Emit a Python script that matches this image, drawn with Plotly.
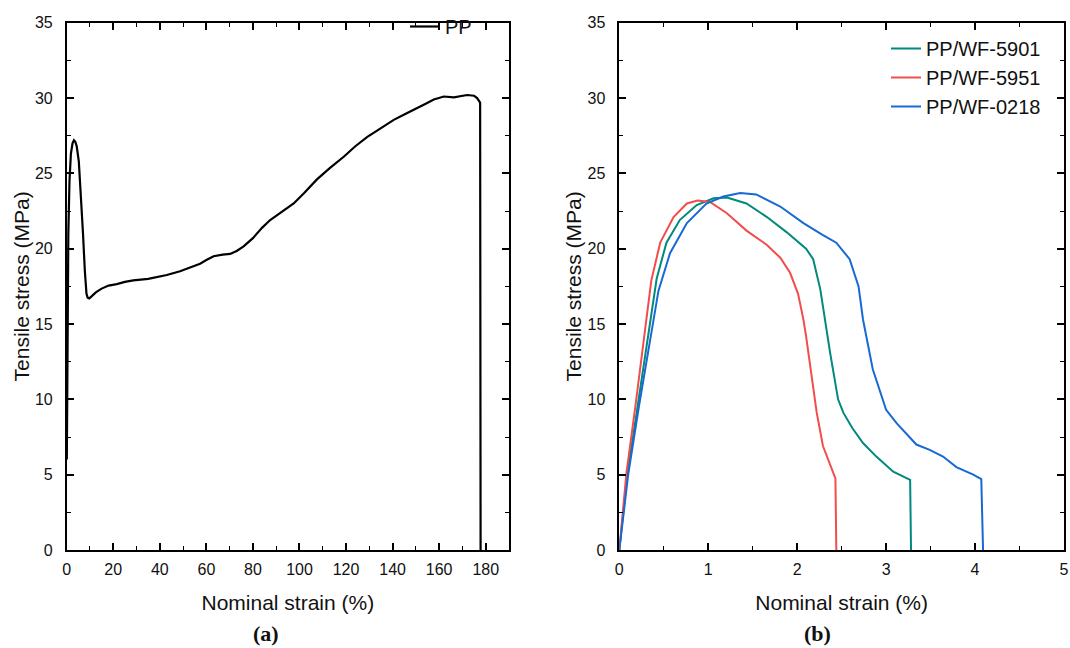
import plotly.graph_objects as go

# ---- Data ----
pp_strain = [0.05, 0.3, 0.7, 1.2, 1.8, 2.5, 3.1, 3.7, 4.3, 5.2, 6.2, 7.0, 7.8, 8.5, 9.0, 9.7,
             10.8, 12.5, 15, 18, 21.5, 25, 28.6, 35, 43, 48.7, 53, 57.3, 60, 63.1, 67, 70.2,
             73, 76, 80, 84, 87.4, 92, 97.5, 102, 107.5, 113, 119, 124, 129, 135, 140.5, 145,
             150.5, 154, 157.7, 162, 166.3, 169, 172, 175, 176.3, 177.6, 177.8]
pp_stress = [6.0, 14.0, 21.0, 24.5, 26.3, 27.0, 27.2, 27.1, 26.8, 25.8, 23.5, 21.0, 18.5, 17.0, 16.75, 16.7,
             16.85, 17.1, 17.35, 17.55, 17.65, 17.8, 17.9, 18.0, 18.25, 18.5, 18.75, 19.0, 19.25, 19.5, 19.6, 19.65,
             19.85, 20.15, 20.7, 21.4, 21.9, 22.4, 23.0, 23.7, 24.6, 25.35, 26.1, 26.8, 27.4, 28.0, 28.55, 28.9,
             29.3, 29.6, 29.9, 30.1, 30.05, 30.1, 30.2, 30.15, 30.0, 29.7, 0.0]

wf5901_strain = [0, 0.045, 0.09, 0.2, 0.36, 0.42, 0.53, 0.68, 0.87, 1.06, 1.21, 1.43, 1.66, 1.88, 2.1,
                 2.18, 2.26, 2.31, 2.37, 2.46, 2.52, 2.62, 2.74, 2.89, 3.08, 3.27, 3.28]
wf5901_stress = [0, 2.6, 5.0, 9.3, 15.6, 18.0, 20.4, 21.9, 22.9, 23.35, 23.4, 23.0, 22.1, 21.1, 20.0,
                 19.3, 17.3, 15.3, 13.1, 10.0, 9.1, 8.1, 7.1, 6.2, 5.2, 4.65, 0]

wf5951_strain = [0, 0.04, 0.08, 0.18, 0.31, 0.36, 0.46, 0.61, 0.76, 0.88, 1.02, 1.21, 1.43, 1.66, 1.81,
                 1.92, 2.01, 2.07, 2.1, 2.16, 2.22, 2.29, 2.39, 2.43, 2.44]
wf5951_stress = [0, 2.7, 5.1, 9.5, 15.3, 17.9, 20.4, 22.1, 23.0, 23.2, 23.1, 22.35, 21.2, 20.25, 19.4,
                 18.4, 17.0, 15.3, 14.2, 11.5, 9.1, 6.9, 5.3, 4.75, 0]

wf0218_strain = [0, 0.05, 0.1, 0.22, 0.38, 0.44, 0.57, 0.76, 0.98, 1.17, 1.36, 1.54, 1.81, 2.07, 2.29,
                 2.44, 2.59, 2.69, 2.74, 2.85, 3.0, 3.12, 3.34, 3.49, 3.64, 3.79, 3.98, 4.07, 4.09]
wf0218_stress = [0, 2.6, 5.0, 9.5, 15.3, 17.2, 19.7, 21.7, 23.0, 23.46, 23.7, 23.6, 22.8, 21.7, 20.9,
                 20.4, 19.3, 17.5, 15.3, 12.0, 9.3, 8.4, 7.0, 6.65, 6.2, 5.5, 5.0, 4.7, 0]

x_title = "Nominal strain (%)"
y_title = "Tensile stress (MPa)"
panel_labels = ["(a)", "(b)"]

FONT = "Arial, Liberation Sans, sans-serif"
GREEN = "#00897e"
RED = "#f24c4c"
BLUE = "#1769d3"

fig = go.Figure()
fig.add_trace(go.Scatter(x=pp_strain, y=pp_stress, mode="lines", name="PP",
                         line=dict(color="black", width=2.2), xaxis="x", yaxis="y", legend="legend"))
fig.add_trace(go.Scatter(x=wf5901_strain, y=wf5901_stress, mode="lines", name="PP/WF-5901",
                         line=dict(color=GREEN, width=2), xaxis="x2", yaxis="y2", legend="legend2"))
fig.add_trace(go.Scatter(x=wf5951_strain, y=wf5951_stress, mode="lines", name="PP/WF-5951",
                         line=dict(color=RED, width=2), xaxis="x2", yaxis="y2", legend="legend2"))
fig.add_trace(go.Scatter(x=wf0218_strain, y=wf0218_stress, mode="lines", name="PP/WF-0218",
                         line=dict(color=BLUE, width=2), xaxis="x2", yaxis="y2", legend="legend2"))

W, H = 1070, 648
ydom = [1 - 550 / H, 1 - 22.7 / H]

def xax(dom, rng, dtick, mdtick, anchor):
    return dict(domain=dom, range=rng, dtick=dtick, tick0=0, anchor=anchor, automargin=False,
                showline=True, linecolor="black", linewidth=1.6, mirror="ticks",
                ticks="inside", ticklen=7, tickwidth=1.6, tickcolor="black",
                minor=dict(ticks="inside", dtick=mdtick, ticklen=4, tickwidth=1.4, tickcolor="black"),
                showgrid=False, zeroline=False, ticklabelstandoff=4,
                tickfont=dict(family=FONT, size=16, color="#111"),
                title=dict(text=x_title, font=dict(family=FONT, size=21, color="#111"), standoff=18))

def yax(dom, anchor):
    return dict(domain=dom, range=[0, 35], dtick=5, tick0=0, anchor=anchor, automargin=False,
                showline=True, linecolor="black", linewidth=1.6, mirror="ticks",
                ticks="inside", ticklen=7, tickwidth=1.6, tickcolor="black",
                minor=dict(ticks="inside", dtick=2.5, ticklen=4, tickwidth=1.4, tickcolor="black"),
                showgrid=False, zeroline=False, ticklabelstandoff=9,
                tickfont=dict(family=FONT, size=16, color="#111"),
                title=dict(text=y_title, font=dict(family=FONT, size=21, color="#111"), standoff=0))

fig.update_layout(
    width=W, height=H, margin=dict(l=0, r=0, t=0, b=0),
    paper_bgcolor="white", plot_bgcolor="white",
    xaxis=xax([66.7 / W, 509 / W], [0, 190], 20, 10, "y"),
    yaxis=yax(ydom, "x"),
    xaxis2=xax([619.3 / W, 1064 / W], [0, 5], 1, 0.5, "y2"),
    yaxis2=yax(ydom, "x2"),
    legend=dict(x=477 / W, y=1 - 7 / H, xanchor="right", yanchor="top",
                bgcolor="rgba(0,0,0,0)", font=dict(family=FONT, size=20, color="#111")),
    legend2=dict(x=1046 / W, y=1 - 29 / H, xanchor="right", yanchor="top",
                 bgcolor="rgba(0,0,0,0)", font=dict(family=FONT, size=20, color="#111"),
                 tracegroupgap=0),
    showlegend=True,
)

for lab, cx in zip(panel_labels, [266, 817]):
    fig.add_annotation(text="<b>" + lab + "</b>", x=cx / W, y=1 - 633 / H, xref="paper", yref="paper",
                       xanchor="center", yanchor="middle", showarrow=False,
                       font=dict(family="Liberation Serif, Times New Roman, serif", size=22, color="#111"))

fig.write_html("out.html", config={"displayModeBar": False},
               post_script="document.body.style.margin='0';document.body.style.overflow='hidden';")
